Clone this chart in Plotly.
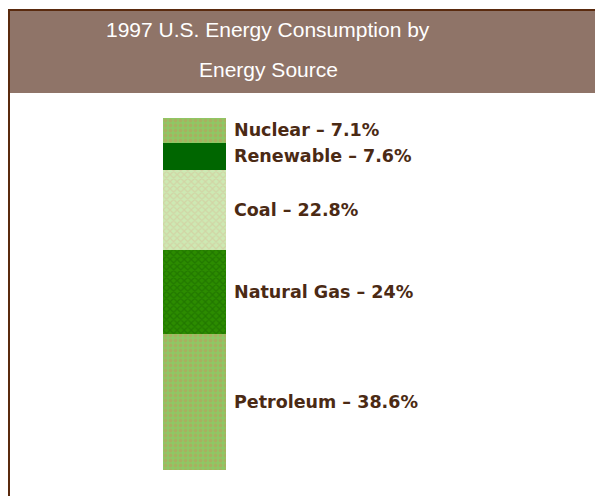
import plotly.graph_objects as go

# 1997 U.S. energy consumption shares, stacked bottom to top
sources = ["Petroleum", "Natural Gas", "Coal", "Renewable", "Nuclear"]
shares = [38.6, 24, 22.8, 7.6, 7.1]
title_lines = ["1997 U.S. Energy Consumption by", "Energy Source"]

W, H = 603, 496
OFF = 8  # page body margin shifts the figure by 8px


def px_x(p):
    return (p - OFF) / W


def px_y(p):
    return 1 - (p - OFF) / H


# fill style per source: (background, pattern colour, pattern shape)
styles = {
    "Petroleum": ("#8dc864", "#c29a5c", "."),
    "Natural Gas": ("#2c8c00", "#176400", "x"),
    "Coal": ("#cde9b3", "#d6c098", "x"),
    "Renewable": ("#006600", "#006600", ""),
    "Nuclear": ("#8dc864", "#c29a5c", "."),
}

fig = go.Figure()

for name, share in zip(sources, shares):
    bg, fg, shape = styles[name]
    fig.add_trace(go.Bar(
        x=["1997"],
        y=[share],
        name=name,
        width=1,
        marker=dict(
            color=bg,
            line=dict(width=0),
            pattern=dict(shape=shape, fgcolor=fg, bgcolor=bg, size=5, solidity=0.45),
        ),
        hovertemplate=name + ": %{y}%<extra></extra>",
    ))

# labels to the right of each segment, centred on it
annotations = []
base = 0
for name, share in zip(sources, shares):
    annotations.append(dict(
        text=f"{name} – {share:g}%",
        xref="x domain", x=1, xanchor="left", xshift=6,
        yref="y", y=base + share / 2, yanchor="middle",
        showarrow=False,
        font=dict(family="DejaVu Sans", size=17.5, color="#4b2a14", weight="bold"),
    ))
    base += share

# header title, two lines
for i, line in enumerate(title_lines):
    annotations.append(dict(
        text=line,
        xref="paper", x=px_x(268), xanchor="center",
        yref="paper", y=px_y(30 + 39 * i), yanchor="middle",
        showarrow=False,
        font=dict(family="Liberation Sans", size=21, color="white"),
    ))

shapes = [
    # brown header band
    dict(type="rect", xref="paper", yref="paper",
         x0=px_x(8), x1=1, y0=px_y(93), y1=px_y(10),
         fillcolor="#8f7468", line=dict(width=0), layer="below"),
    # top and left border
    dict(type="line", xref="paper", yref="paper",
         x0=px_x(8), x1=1, y0=px_y(10), y1=px_y(10),
         line=dict(color="#5a2a0e", width=2)),
    dict(type="line", xref="paper", yref="paper",
         x0=px_x(9), x1=px_x(9), y0=0, y1=px_y(10),
         line=dict(color="#5a2a0e", width=2)),
]

fig.update_layout(
    width=W,
    height=H,
    margin=dict(l=0, r=0, t=0, b=0),
    paper_bgcolor="white",
    plot_bgcolor="white",
    barmode="stack",
    bargap=0,
    showlegend=False,
    xaxis=dict(domain=[px_x(163), px_x(226)], range=[-0.5, 0.5], visible=False),
    yaxis=dict(domain=[px_y(470), px_y(118)], range=[0, sum(shares)], visible=False),
    annotations=annotations,
    shapes=shapes,
)

fig.write_html("out.html")
